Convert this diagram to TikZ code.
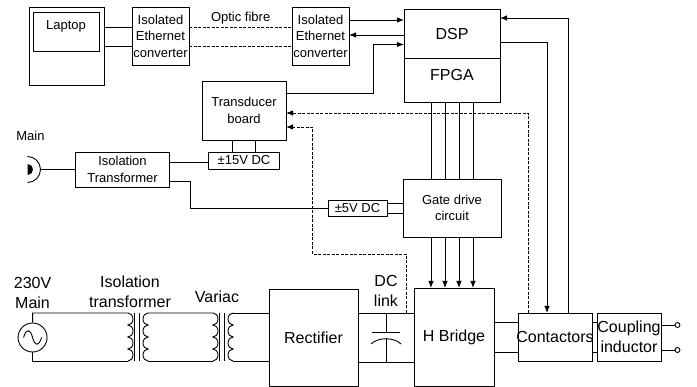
\documentclass[tikz,border=0pt]{standalone}
\usepackage{fontspec}
\usepackage{tikz}
\usetikzlibrary{arrows.meta,positioning}
\setmainfont{Liberation Sans}

\begin{document}
\begin{tikzpicture}[
  x=1pt, y=-1pt,
  font=\fontsize{13}{16.5}\selectfont,
  line width=0.9pt,
  box/.style={draw, fill=white, align=center, inner sep=0pt, outer sep=0pt},
  big/.style={font=\fontsize{16}{20}\selectfont},
  plain/.style={align=center, inner sep=0pt, outer sep=0pt},
  arrow/.style={-{Latex[length=7pt,width=5.5pt]}},
  fibre/.style={dash pattern=on 3pt off 1.5pt},
  terminal/.style={draw, circle, fill=white, minimum size=5pt, inner sep=0pt},
  coilright/.style={insert path={
    arc[start angle=90, end angle=-90, x radius=5pt, y radius=6pt]
    arc[start angle=90, end angle=-90, x radius=5pt, y radius=6pt]
    arc[start angle=90, end angle=-90, x radius=5pt, y radius=6pt]
    arc[start angle=90, end angle=-90, x radius=5pt, y radius=6pt]}},
  coilleft/.style={insert path={
    arc[start angle=90, end angle=270, x radius=5pt, y radius=6pt]
    arc[start angle=90, end angle=270, x radius=5pt, y radius=6pt]
    arc[start angle=90, end angle=270, x radius=5pt, y radius=6pt]
    arc[start angle=90, end angle=270, x radius=5pt, y radius=6pt]}}
]
  \useasboundingbox (0,0) rectangle (697,387);

  % laptop link
  \node[box, minimum width=75pt, minimum height=78pt, anchor=north west] (laptop) at (29,7) {};
  \node[box, minimum width=66pt, minimum height=39pt, below right=5pt and 4pt of laptop.north west, anchor=north west] (screen) {};
  \node[plain, below=9pt of screen.north] (laptoptext) {Laptop};
  \node[box, minimum width=57pt, minimum height=58pt, right=28pt of laptop.north east, anchor=north west] (ethone) {Isolated\\Ethernet\\converter};
  \node[box, minimum width=57pt, minimum height=58pt, right=103pt of ethone.north east, anchor=north west] (ethtwo) {Isolated\\Ethernet\\converter};
  \node[plain, right=22pt of ethone.north east, anchor=north west, yshift=-5pt] (fibretext) {Optic fibre};

  \draw ([yshift=-20pt]laptop.north east) -- ([yshift=-20pt]ethone.north west);
  \draw ([yshift=-39pt]laptop.north east) -- ([yshift=-39pt]ethone.north west);
  \draw[fibre] ([yshift=-20pt]ethone.north east) -- ([yshift=-20pt]ethtwo.north west);
  \draw[fibre] ([yshift=-39pt]ethone.north east) -- ([yshift=-39pt]ethtwo.north west);

  % controller
  \node[box, big, minimum width=96pt, minimum height=49pt, right=55pt of ethtwo.north east, anchor=north west, yshift=-2pt] (dsp) {DSP};
  \node[box, big, minimum width=96pt, minimum height=44pt, text height=11.5pt, text depth=10pt, below=0pt of dsp] (fpga) {FPGA};
  \node[box, minimum width=98pt, minimum height=58pt, below=77pt of fpga] (gate) {Gate drive\\circuit};
  \node[box, minimum width=84pt, minimum height=59pt, below=16pt of ethone.south east, anchor=north west, xshift=13pt] (transducer) {Transducer\\board};
  \node[box, minimum width=71pt, minimum height=17pt, below=12pt of transducer] (psufifteen) {±15V DC};
  \node[box, minimum width=94pt, minimum height=35pt, left=39pt of psufifteen.north west, anchor=north east] (isotrans) {Isolation\\Transformer};
  \node[box, minimum width=59pt, minimum height=16pt, left=16pt of gate] (psufive) {±5V DC};

  \draw[arrow] ([yshift=-13pt]ethtwo.north east) -- ([yshift=-11pt]dsp.north west);
  \draw[arrow] ([yshift=-26pt]dsp.north west) -- ([yshift=-28pt]ethtwo.north east);
  \draw[arrow] ([yshift=-12pt]transducer.north east) -- ++(87,0) |- ([yshift=-35.5pt]dsp.north west);

  % mains socket
  \coordinate[left=35pt of isotrans.west] (socket);
  \node[plain, above=29pt of socket, xshift=-10pt] (maintext) {Main};
  \draw ([xshift=-13pt,yshift=-13pt]socket) arc[start angle=-90, end angle=90, radius=13pt];
  \fill ([xshift=-13pt,yshift=-5.5pt]socket) arc[start angle=-90, end angle=90, radius=5.5pt] -- cycle;
  \draw (socket) -- (isotrans.west);

  \draw ([yshift=-10pt]isotrans.north east) -- ([yshift=-10pt]psufifteen.north west);
  \draw ([yshift=-29pt]isotrans.north east) -- ++(21,0) |- (psufive.west);
  \draw ([xshift=-12pt]psufifteen.north) -- ([xshift=-12pt]psufifteen.north |- transducer.south);
  \draw ([xshift=11.5pt]psufifteen.north) -- ([xshift=11.5pt]psufifteen.north |- transducer.south);
  \draw ([yshift=5pt]psufive.east) -- ([yshift=5pt]psufive.east -| gate.west);
  \draw ([yshift=-5pt]psufive.east) -- ([yshift=-5pt]psufive.east -| gate.west);

  % power stage
  \node[box, big, minimum width=80pt, minimum height=98pt, below=51pt of gate, xshift=2pt] (hbridge) {H Bridge};
  \node[box, big, minimum width=89pt, minimum height=97pt, left=56pt of hbridge.south west, anchor=south east] (rectifier) {Rectifier};
  \node[box, big, minimum width=74pt, minimum height=48pt, right=24pt of hbridge.north east, anchor=north west, yshift=-25pt] (contactors) {\makebox[0pt]{Contactors}};
  \node[box, big, minimum width=64pt, minimum height=48pt, right=5pt of contactors] (coupling) {Coupling\\inductor};
  \node[terminal, right=13.5pt of coupling.north east, yshift=-12pt] (termtop) {};
  \node[terminal, right=13.5pt of coupling.south east, yshift=11pt] (termbot) {};

  \foreach \dx in {-21,-7,7,21} {
    \draw ([xshift=\dx pt]fpga.south) -- ([xshift=\dx pt]gate.north);
    \draw[arrow] ([xshift=\dx pt]gate.south) -- ([xshift=\dx pt]gate.south |- hbridge.north);
  }

  \draw ([yshift=-9pt]contactors.north west -| hbridge.east) -- ([yshift=-9pt]contactors.north west);
  \draw ([yshift=9pt]contactors.south west -| hbridge.east) -- ([yshift=9pt]contactors.south west);
  \draw ([yshift=-9pt]contactors.north east) -- ([yshift=-9pt]coupling.north west);
  \draw ([yshift=9pt]contactors.south east) -- ([yshift=9pt]coupling.south west);
  \draw (termtop -| coupling.east) -- (termtop);
  \draw (termbot -| coupling.east) -- (termbot);

  \draw[arrow] ([yshift=-33pt]dsp.north east) -| ([xshift=29pt]contactors.north west);
  \draw[arrow] ([xshift=50pt]contactors.north west) |- ([yshift=-9pt]dsp.north east);
  \draw[arrow, fibre] ([xshift=10pt]contactors.north west) |- ([yshift=-32pt]transducer.north east);

  % dc link
  \coordinate (bustop) at ([yshift=24.5pt]rectifier.east);
  \coordinate (busbot) at ([yshift=-24.5pt]rectifier.east);
  \draw (bustop) -- (bustop -| hbridge.west);
  \draw (busbot) -- (busbot -| hbridge.west);
  \coordinate[right=28pt of bustop] (captop);
  \coordinate[right=28pt of busbot] (capbot);
  \coordinate[right=48pt of bustop] (sense);
  \node[plain, big, above=6pt of captop] (linktext) {DC\\link};
  \draw (captop) -- ++(0,19) coordinate (plate);
  \draw ([xshift=-14pt]plate) -- ([xshift=14pt]plate);
  \draw ([xshift=-15pt,yshift=-12pt]plate) .. controls ([xshift=-8pt,yshift=-5pt]plate) and ([xshift=8pt,yshift=-5pt]plate) .. ([xshift=15pt,yshift=-12pt]plate);
  \draw (capbot) -- ([yshift=-6pt]plate);
  \draw[arrow, fibre] (sense) -- ++(0,-59) -- ++(-94,0) |- ([yshift=-46pt]transducer.north east);

  % source and transformers
  \node[draw, circle, minimum size=29pt, inner sep=0pt, left=221.5pt of rectifier] (source) {};
  \draw ([xshift=-9pt]source.center) .. controls ([xshift=-6pt,yshift=10pt]source.center) and ([xshift=-2pt,yshift=8pt]source.center) .. (source.center) .. controls ([xshift=2pt,yshift=-8pt]source.center) and ([xshift=6pt,yshift=-10pt]source.center) .. ([xshift=9pt]source.center);
  \node[plain, big, above=14pt of source] (sourcetext) {230V\\Main};

  \coordinate (isotop) at (128,313);
  \coordinate[below=48pt of isotop] (isobot);
  \coordinate[right=20pt of isotop] (isosectop);
  \coordinate[right=20pt of isobot] (isosecbot);
  \coordinate[right=65pt of isosectop] (vartop);
  \coordinate[right=65pt of isosecbot] (varbot);
  \coordinate[right=20pt of vartop] (varsectop);
  \coordinate[right=20pt of varbot] (varsecbot);
  \node[plain, big, above=5pt of isotop, xshift=2pt] (isotext) {Isolation\\transformer};
  \node[plain, big, above=10pt of vartop, xshift=4pt] (variactext) {Variac};

  \draw (source.north) |- (isotop) [coilright];
  \draw (source.south) |- (isobot);
  \draw (isosecbot) -- (varbot);
  \draw (isosectop) [coilleft];
  \draw (isosectop) -- (vartop) [coilright];
  \draw (varsectop) [coilleft];
  \draw (varsectop) -- (varsectop -| rectifier.west);
  \draw (varsecbot) -- (varsecbot -| rectifier.west);
  \draw ([xshift=6pt]isotop) -- ([xshift=6pt]isobot);
  \draw ([xshift=11pt]isotop) -- ([xshift=11pt]isobot);
  \draw ([xshift=6pt]vartop) -- ([xshift=6pt]varbot);
  \draw ([xshift=11pt]vartop) -- ([xshift=11pt]varbot);
\end{tikzpicture}
\end{document}
